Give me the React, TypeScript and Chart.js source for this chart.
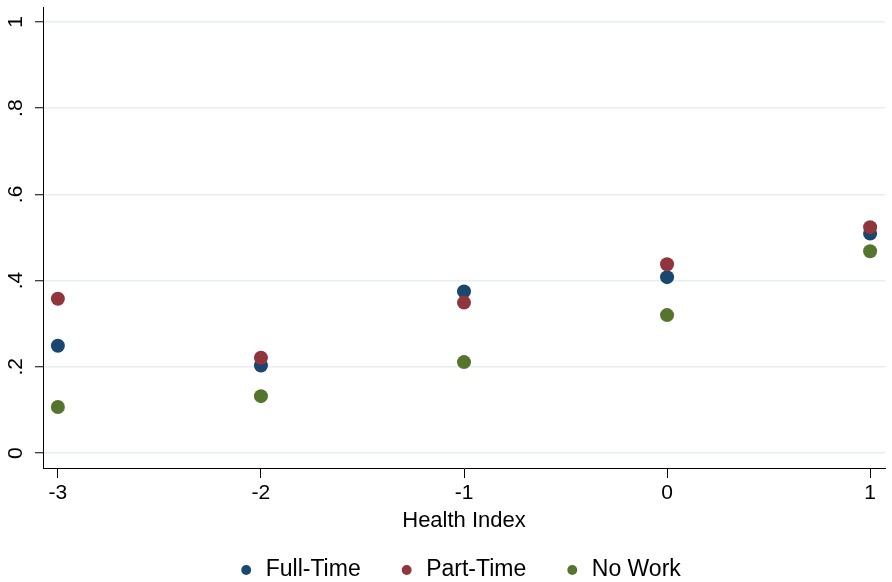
import React, { useEffect, useRef } from "react";
import { Chart, registerables } from "chart.js";

Chart.register(...registerables);

const healthIndex = [-3, -2, -1, 0, 1];
const fullTime = [0.249, 0.203, 0.375, 0.408, 0.509];
const partTime = [0.358, 0.221, 0.349, 0.438, 0.524];
const noWork = [0.107, 0.132, 0.211, 0.32, 0.468];
const seriesNames = ["Full-Time", "Part-Time", "No Work"];
const xTickValues = [-3, -2, -1, 0, 1];
const xTickLabels = ["-3", "-2", "-1", "0", "1"];
const yTickValues = [0, 0.2, 0.4, 0.6, 0.8, 1];
const yTickLabels = ["0", ".2", ".4", ".6", ".8", "1"];
const xAxisTitle = "Health Index";

const COLORS = ["#1a476f", "#90353b", "#55752f"];
const FONT = "Arial, 'Liberation Sans', sans-serif";

const legendShift = {
  id: "legendShift",
  afterLayout(chart: any) {
    const l = chart.legend;
    if (!l) return;
    l.top -= 13.5;
    l.bottom = chart.height;
    l.height = l.bottom - l.top;
    l.left += 14;
    l.right += 14;
  },
};

export default function App() {
  const ref = useRef<HTMLCanvasElement | null>(null);

  useEffect(() => {
    document.body.style.margin = "0";
    const canvas = ref.current;
    if (!canvas) return;
    const series = [fullTime, partTime, noWork];
    const chart = new Chart(canvas, {
      type: "scatter",
      data: {
        datasets: series.map((vals, i) => ({
          label: seriesNames[i],
          data: vals.map((v, j) => ({ x: healthIndex[j], y: v })),
          backgroundColor: COLORS[i],
          borderColor: COLORS[i],
          borderWidth: 0,
          pointRadius: 7,
          pointHoverRadius: 7,
          pointStyle: "circle",
          order: 3 - i,
        })),
      },
      options: {
        responsive: false,
        animation: false,
        devicePixelRatio: 1,
        layout: { padding: { top: 5, right: 1, left: 0, bottom: 0 } },
        plugins: {
          tooltip: { enabled: false },
          title: { display: false },
          legend: {
            display: true,
            position: "bottom",
            maxHeight: 48,
            labels: {
              usePointStyle: true,
              pointStyle: "circle",
              boxHeight: 7,
              boxWidth: 16,
              padding: 38,
              color: "#000",
              font: { family: FONT, size: 23 },
              sort: (a: any, b: any) => a.datasetIndex - b.datasetIndex,
            },
          },
        },
        scales: {
          x: {
            type: "linear",
            min: -3.0733,
            max: 1.0733,
            afterBuildTicks: (scale: any) => {
              scale.ticks = xTickValues.map((v) => ({ value: v }));
            },
            afterFit: (scale: any) => {
              scale.height = 66;
              scale.paddingLeft = 0;
              scale.paddingRight = 0;
            },
            ticks: {
              autoSkip: false,
              maxRotation: 0,
              minRotation: 0,
              padding: 3,
              color: "#000",
              font: { family: FONT, size: 21 },
              callback: (_v: any, i: number) => xTickLabels[i],
            },
            grid: {
              drawOnChartArea: false,
              drawTicks: true,
              tickLength: 10,
              tickColor: "#000",
              tickWidth: 1,
            },
            border: { display: true, color: "#000", width: 1 },
            title: {
              display: true,
              text: xAxisTitle,
              color: "#000",
              font: { family: FONT, size: 22 },
              padding: { top: 0, bottom: 0 },
            },
          },
          y: {
            type: "linear",
            min: -0.0346,
            max: 1.0346,
            afterBuildTicks: (scale: any) => {
              scale.ticks = yTickValues.map((v) => ({ value: v }));
            },
            afterFit: (scale: any) => {
              scale.width = 43;
              scale.paddingTop = 0;
              scale.paddingBottom = 0;
            },
            ticks: {
              autoSkip: false,
              minRotation: 90,
              maxRotation: 90,
              crossAlign: "center",
              padding: 10,
              color: "#000",
              font: { family: FONT, size: 21 },
              callback: (_v: any, i: number) => yTickLabels[i],
            },
            grid: {
              drawOnChartArea: true,
              color: "#e6eef0",
              lineWidth: 1.5,
              tickLength: 8,
              tickColor: "#000",
              tickWidth: 1,
            },
            border: { display: true, color: "#000", width: 1 },
          },
        },
      },
      plugins: [legendShift],
    } as any);
    return () => chart.destroy();
  }, []);

  return (
    <div style={{ position: "absolute", left: 0, top: 0, width: 892, height: 582, background: "#fff" }}>
      <canvas ref={ref} width={892} height={582} style={{ width: 892, height: 582, display: "block" }} />
    </div>
  );
}
